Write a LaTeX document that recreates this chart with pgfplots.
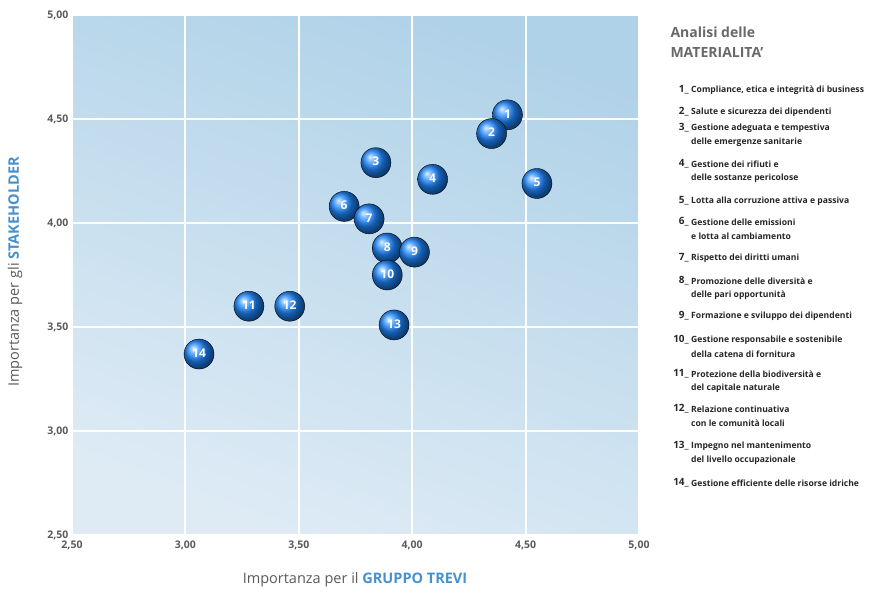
\documentclass[border=0pt]{standalone}
\usepackage{pgfplots}
\pgfplotsset{compat=1.18}
\usepackage{fontspec}
\setmainfont{Open Sans}

\definecolor{bgdark}{RGB}{176,210,232}
\definecolor{bglight}{RGB}{222,235,245}
\definecolor{ballblue}{RGB}{30,135,255}
\definecolor{ticktxt}{RGB}{90,90,90}
\definecolor{titlegray}{RGB}{105,105,105}
\definecolor{labblue}{RGB}{70,145,205}

% temi di materialita: x = gruppo, y = stakeholder
\pgfplotstableread{
x    y    n
4.42 4.52 1
4.35 4.43 2
3.84 4.29 3
4.09 4.21 4
4.55 4.19 5
3.70 4.08 6
3.81 4.02 7
3.89 3.88 8
4.01 3.86 9
3.89 3.75 10
3.28 3.60 11
3.46 3.60 12
3.92 3.51 13
3.06 3.37 14
}\temi

\begin{document}
\begin{tikzpicture}
\path (0pt,0pt) rectangle (878pt,-592pt);

\begin{axis}[
    at={(72pt,-535pt)}, anchor=south west,
    scale only axis,
    width=567pt, height=520pt,
    xmin=2.5, xmax=5, ymin=2.5, ymax=5,
    xtick={2.5,3,...,5}, ytick={2.5,3,...,5},
    axis line style={draw=none},
    major tick length=0pt,
    grid=major,
    major grid style={white, line width=2pt},
    axis background/.style={shade, top color=bgdark, bottom color=bglight, shading angle=-20},
    /pgf/number format/.cd, fixed, fixed zerofill, precision=2, use comma, assume math mode=true,
    /pgfplots/.cd,
    tick label style={font=\fontsize{10.5}{12}\selectfont\bfseries, text=ticktxt},
    xticklabel style={yshift=-2pt},
    clip=false,
]
\addplot[only marks, mark=ball, mark size=15pt, ball color=ballblue,
    point meta=explicit symbolic,
    nodes near coords,
    nodes near coords align=center,
    every node near coord/.append style={text=white, font=\fontsize{12}{13}\selectfont\bfseries, yshift=1pt}]
    table[x=x, y=y, meta=n] {\temi};
\end{axis}

% titoli degli assi
\node[rotate=90, font=\fontsize{14.5}{16}\selectfont, text=ticktxt] at (15pt,-272pt)
    {Importanza per gli \textcolor{labblue}{\bfseries STAKEHOLDER}};
\node[font=\fontsize{14.5}{16}\selectfont, text=ticktxt] at (355pt,-580pt)
    {Importanza per il \textcolor{labblue}{\bfseries GRUPPO TREVI}};

% legenda
\node[anchor=west, font=\fontsize{14}{16}\selectfont\bfseries, text=titlegray] at (667pt,-32pt) {Analisi delle};
\node[anchor=west, font=\fontsize{14}{16}\selectfont\bfseries, text=titlegray] at (667pt,-52pt) {MATERIALITA'};

\begin{scope}[every node/.style={font=\fontsize{8.6}{10}\selectfont\bfseries, text=black!85, inner xsep=0pt}]
\foreach \n/\yy/\a/\b in {
  1/90/{Compliance, etica e integrità di business}/{},
  2/112/{Salute e sicurezza dei dipendenti}/{},
  3/128/{Gestione adeguata e tempestiva}/{delle emergenze sanitarie},
  4/164/{Gestione dei rifiuti e}/{delle sostanze pericolose},
  5/201/{Lotta alla corruzione attiva e passiva}/{},
  6/222/{Gestione delle emissioni}/{e lotta al cambiamento},
  7/258/{Rispetto dei diritti umani}/{},
  8/281/{Promozione delle diversità e}/{delle pari opportunità},
  9/316/{Formazione e sviluppo dei dipendenti}/{},
  10/340/{Gestione responsabile e sostenibile}/{della catena di fornitura},
  11/374/{Protezione della biodiversità e}/{del capitale naturale},
  12/409/{Relazione continuativa}/{con le comunità locali},
  13/446/{Impegno nel mantenimento}/{del livello occupazionale},
  14/483/{Gestione efficiente delle risorse idriche}/{}}{
  \node[anchor=east, font=\fontsize{10}{11}\selectfont\bfseries] at (689pt,-\yy pt) {\n\_};
  \node[anchor=west] at (691pt,-\yy pt) {\a};
  \node[anchor=west] at (691pt,-\yy pt-14pt) {\b};
}
\end{scope}
\end{tikzpicture}
\end{document}
